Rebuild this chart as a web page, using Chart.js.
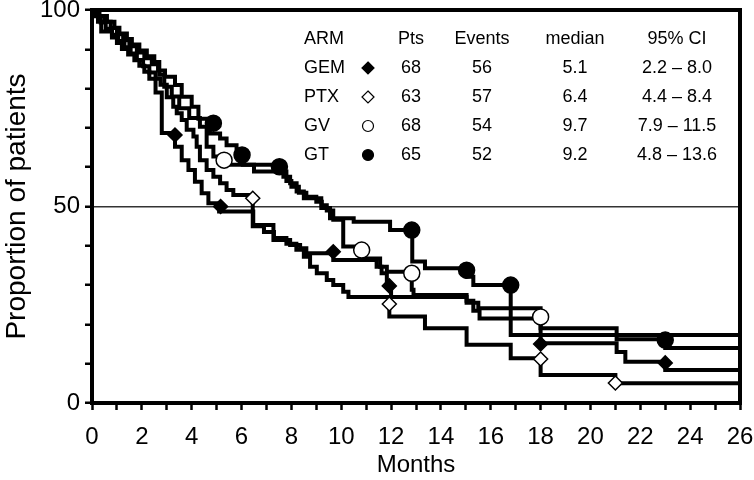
<!DOCTYPE html>
<html>
<head>
<meta charset="utf-8">
<script src="https://cdn.jsdelivr.net/npm/chart.js@4.4.1/dist/chart.umd.min.js"></script>
<style>
  html, body { margin: 0; padding: 0; background: #fff; }
</style>
</head>
<body>
<canvas id="km_chart" width="754" height="480"></canvas>
<script>
// Kaplan-Meier curves: time (months) and proportion of patients (%) after each step
let gemT = [0, 0.12, 0.24, 0.37, 0.8, 1.0, 1.2, 1.45, 1.7, 1.9, 2.1, 2.3, 2.55, 2.8, 3.33, 3.6, 3.87, 4.13, 4.4, 4.67, 5.1, 6.47, 7.28, 7.95, 8.35, 8.6, 9.68, 11.42, 11.62, 11.83, 12.0, 15.03, 15.5, 18.0, 21.05, 21.4, 23.0, 26]
let gemS = [100, 98.5, 97.0, 94.5, 93.0, 91.6, 90.1, 88.7, 87.2, 85.8, 84.3, 82.5, 79.0, 68.7, 65.2, 61.8, 59.3, 56.3, 53.4, 50.8, 48.7, 45.3, 41.5, 40.2, 39.4, 38.1, 36.4, 34.7, 33.0, 30.0, 27.0, 25.5, 24.1, 15.2, 13.0, 10.5, 8.4, 8.4]

let ptxT = [0, 0.1, 0.35, 0.55, 0.8, 1.05, 1.3, 1.55, 1.8, 2.05, 2.3, 2.55, 2.75, 3.0, 3.26, 3.4, 3.6, 3.8, 4.07, 4.2, 4.33, 4.6, 4.87, 5.14, 5.4, 5.67, 6.45, 6.9, 7.3, 7.8, 8.2, 8.5, 8.75, 9.02, 9.42, 9.68, 10.08, 10.29, 11.93, 13.36, 15.03, 16.8, 18.0, 21.0, 26]
let ptxS = [100, 98.4, 96.8, 95.2, 93.7, 92.1, 90.5, 88.9, 87.3, 85.7, 84.1, 82.5, 81.0, 77.8, 75.4, 73.7, 72.0, 69.5, 67.8, 65.2, 61.8, 59.3, 57.6, 55.9, 54.2, 52.9, 45.0, 43.5, 42.0, 40.5, 39.0, 37.2, 34.7, 33.0, 31.3, 30.0, 28.3, 27.0, 22.0, 19.0, 14.8, 11.4, 7.1, 5.0, 5.0]

let gvT = [0, 0.3, 0.6, 0.9, 1.1, 1.4, 1.6, 1.9, 2.2, 2.5, 2.7, 2.9, 3.2, 3.5, 3.9, 4.33, 4.6, 4.87, 5.35, 6.5, 7.8, 8.0, 8.3, 8.6, 9.0, 9.22, 9.42, 9.68, 10.08, 10.82, 11.56, 11.83, 12.83, 12.9, 15.03, 15.3, 15.55, 18.0, 21.05, 23.0, 26]
let gvS = [100, 98.5, 97.0, 95.5, 94.0, 92.6, 91.2, 89.7, 88.2, 86.8, 83.5, 80.5, 78.0, 75.0, 72.5, 70.3, 65.2, 62.7, 60.6, 58.9, 56.5, 55.0, 53.5, 52.5, 51.2, 50.3, 49.0, 46.6, 39.8, 36.8, 34.7, 33.4, 28.8, 27.5, 26.0, 23.5, 21.5, 19.0, 16.2, 14.0, 14.0]

let gtT = [0, 0.2, 0.5, 0.75, 1.0, 1.25, 1.5, 1.8, 2.1, 2.4, 2.65, 2.93, 3.33, 3.6, 4.0, 4.27, 4.73, 5.14, 5.4, 5.8, 6.05, 7.68, 7.95, 8.21, 8.5, 9.2, 9.55, 10.5, 11.96, 12.85, 13.36, 15.03, 15.3, 16.8, 26]
let gtS = [100, 98.5, 97.0, 95.4, 93.8, 92.3, 90.8, 89.2, 87.7, 86.2, 84.6, 83.0, 80.9, 77.9, 75.4, 72.3, 68.6, 67.3, 65.6, 63.5, 60.6, 57.6, 55.9, 53.8, 52.1, 49.6, 47.0, 46.1, 44.0, 36.0, 34.3, 32.1, 30.0, 17.3, 17.3]

// identifying symbols placed on the curves
let gemMarkX = [3.33, 5.16, 9.68, 11.93, 18.0, 23.0]
let gemMarkY = [68.2, 50.0, 38.5, 29.8, 15.0, 10.2]
let ptxMarkX = [6.45, 11.93, 18.0, 21.0]
let ptxMarkY = [52.1, 25.2, 11.2, 5.1]
let gvMarkX = [5.3, 10.82, 12.83, 18.0]
let gvMarkY = [61.8, 38.9, 33.0, 21.9]
let gtMarkX = [4.87, 6.02, 7.52, 12.83, 15.03, 16.8, 23.0]
let gtMarkY = [71.2, 63.1, 60.1, 44.0, 33.8, 30.0, 16.0]

// table in the upper right
let tableHead = ["ARM", "Pts", "Events", "median", "95% CI"]
let armNames = ["GEM", "PTX", "GV", "GT"]
let armPts = ["68", "63", "68", "65"]
let armEvents = ["56", "57", "54", "52"]
let armMedian = ["5.1", "6.4", "9.7", "9.2"]
let armCI = ["2.2 – 8.0", "4.4 – 8.4", "7.9 – 11.5", "4.8 – 13.6"]

let xLabeled = [0, 2, 4, 6, 8, 10, 12, 14, 16, 18, 20, 22, 24, 26]
let yLabeled = [0, 50, 100]

const FONT = '"Liberation Sans", Arial, Helvetica, sans-serif'

function pts(xs, ys) {
    return xs.map((x, i) => ({x: x, y: ys[i]}))
}

function curve(label, t, s) {
    return {
        type: 'line',
        label: label,
        data: pts(t, s),
        stepped: 'before',
        borderColor: '#000',
        borderWidth: 4,
        pointRadius: 0,
        fill: false,
        order: 2
    }
}

function marks(label, xs, ys, style, fill, r) {
    return {
        type: 'scatter',
        label: label,
        data: pts(xs, ys),
        pointStyle: style,
        pointRadius: r,
        backgroundColor: fill,
        borderColor: '#000',
        borderWidth: 1.5,
        showLine: false,
        order: 0
    }
}

// top/right frame edges, then the ARM / Pts / Events table with its symbols
const tablePlugin = {
    id: 'armTable',
    afterDraw(chart) {
        let ctx = chart.ctx
        let area = chart.chartArea
        ctx.save()
        ctx.fillStyle = '#000'
        ctx.fillRect(area.left - 2, area.top - 2, area.right - area.left + 4, 4)
        ctx.fillRect(area.right - 2, area.top - 2, 4, area.bottom - area.top + 4)
        ctx.restore()

        let rowY = [39, 68, 97, 126, 155]
        let colX = [304, 411, 482, 575, 677]
        let symX = 368
        ctx.save()
        ctx.fillStyle = '#000'
        ctx.font = '18px ' + FONT
        ctx.textBaseline = 'middle'
        ctx.textAlign = 'left'
        ctx.fillText(tableHead[0], colX[0], rowY[0])
        ctx.textAlign = 'center'
        for (let c = 1; c < tableHead.length; c++) ctx.fillText(tableHead[c], colX[c], rowY[0])
        for (let r = 0; r < armNames.length; r++) {
            let y = rowY[r + 1]
            ctx.textAlign = 'left'
            ctx.fillText(armNames[r], colX[0], y)
            ctx.textAlign = 'center'
            ctx.fillText(armPts[r], colX[1], y)
            ctx.fillText(armEvents[r], colX[2], y)
            ctx.fillText(armMedian[r], colX[3], y)
            ctx.fillText(armCI[r], colX[4], y)
            // symbol
            ctx.beginPath()
            if (r < 2) {
                let h = 6
                ctx.moveTo(symX, y - h)
                ctx.lineTo(symX + h, y)
                ctx.lineTo(symX, y + h)
                ctx.lineTo(symX - h, y)
                ctx.closePath()
            } else {
                ctx.arc(symX, y, 5.5, 0, Math.PI * 2)
            }
            ctx.lineWidth = 1.2
            ctx.strokeStyle = '#000'
            ctx.fillStyle = (r === 0 || r === 3) ? '#000' : '#fff'
            ctx.fill()
            ctx.stroke()
            ctx.fillStyle = '#000'
        }
        ctx.restore()
    }
}

let ctx = document.querySelector('#km_chart').getContext('2d')

let km_chart = new Chart(ctx, {
    data: {
        datasets: [
            marks('GEM', gemMarkX, gemMarkY, 'rectRot', '#000', 7),
            marks('PTX', ptxMarkX, ptxMarkY, 'rectRot', '#fff', 7),
            marks('GV', gvMarkX, gvMarkY, 'circle', '#fff', 8),
            marks('GT', gtMarkX, gtMarkY, 'circle', '#000', 8),
            curve('GEM', gemT, gemS),
            curve('PTX', ptxT, ptxS),
            curve('GV', gvT, gvS),
            curve('GT', gtT, gtS)
        ]
    },
    options: {
        responsive: false,
        animation: false,
        layout: { padding: { top: 10, right: 14, left: 0, bottom: 0 } },
        plugins: {
            legend: { display: false },
            tooltip: { enabled: false }
        },
        scales: {
            x: {
                type: 'linear',
                position: 'bottom',
                min: 0,
                max: 26,
                ticks: {
                    stepSize: 1,
                    autoSkip: false,
                    maxRotation: 0,
                    padding: 13,
                    color: '#000',
                    font: { family: FONT, size: 24 },
                    callback: v => xLabeled.includes(v) ? String(v) : ''
                },
                grid: { drawOnChartArea: false, tickLength: 7, tickColor: '#000', tickWidth: 2.5 },
                border: { color: '#000', width: 4 },
                title: { display: true, text: 'Months', color: '#000', padding: 0, font: { family: FONT, size: 24 } },
                afterFit: s => { s.height = 77; s.paddingLeft = 0; s.paddingRight = 0 }
            },
            y: {
                type: 'linear',
                position: 'left',
                min: 0,
                max: 100,
                ticks: {
                    stepSize: 10,
                    padding: 5,
                    color: '#000',
                    font: { family: FONT, size: 24 },
                    callback: v => yLabeled.includes(v) ? String(v) : ''
                },
                grid: {
                    drawOnChartArea: true,
                    // only the 50% reference line is drawn across the plot
                    color: c => (c.tick && c.tick.value === 50) ? '#333' : 'rgba(0,0,0,0)',
                    lineWidth: 1.5,
                    tickLength: 7,
                    tickColor: '#000',
                    tickWidth: 2.5
                },
                border: { color: '#000', width: 4 },
                title: { display: true, text: 'Proportion of patients', color: '#000', padding: 0, font: { family: FONT, size: 28 } },
                afterFit: s => { s.width = 92; s.paddingTop = 0; s.paddingBottom = 0 }
            }
        }
    },
    plugins: [tablePlugin]
})
</script>
</body>
</html>
